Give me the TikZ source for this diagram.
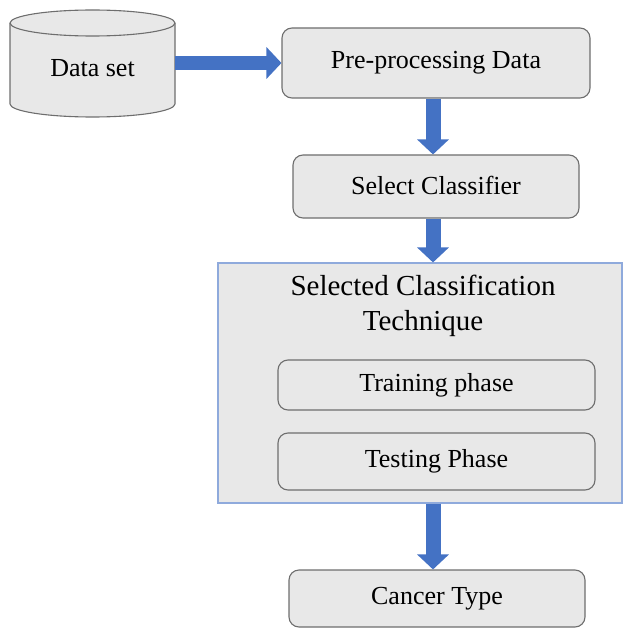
\documentclass[tikz,border=0pt]{standalone}
\usepackage{fontspec}
\setmainfont{Liberation Serif}
\usetikzlibrary{arrows.meta}
\definecolor{boxfill}{HTML}{E8E8E8}
\definecolor{boxline}{HTML}{6E6E6E}
\definecolor{panelline}{HTML}{8FAADC}
\definecolor{flowblue}{HTML}{4472C4}
\tikzset{
  stepbox/.style={draw=boxline, line width=1.1pt, fill=boxfill, rounded corners=10pt,
    font=\fontsize{26}{30}\selectfont, inner sep=0pt},
  panel/.style={draw=panelline, line width=1.1pt, fill=boxfill, inner sep=0pt},
  fatarrow/.style={draw=flowblue, line width=15pt,
    -{Triangle[width=31pt,length=15pt]}, flowblue},
}
\begin{document}
\begin{tikzpicture}[x=1pt,y=-1pt]
\useasboundingbox (0,0) rectangle (623,631);

% database cylinder
\path[draw=boxline, line width=1.1pt, fill=boxfill]
  (10,23) -- (10,104) arc[start angle=180, end angle=0, x radius=82.5, y radius=13]
  -- (175,23) arc[start angle=0, end angle=-180, x radius=82.5, y radius=13] -- cycle;
\draw[boxline, line width=1.1pt]
  (175,23) arc[start angle=0, end angle=180, x radius=82.5, y radius=13];
\node[font=\fontsize{26}{30}\selectfont, minimum width=165pt, minimum height=81pt, inner sep=0pt]
  (ds) at (92.5,68) {Data set};

% process boxes
\node[stepbox, minimum width=308pt, minimum height=70pt] (pre) at (436,63) {Pre-processing Data};
\node[stepbox, minimum width=286pt, minimum height=63pt] (sel) at (436,186.5) {\raisebox{2pt}{Select Classifier}};

% classification panel
\node[panel, minimum width=404pt, minimum height=240pt] (tech) at (420,383) {};
\node[font=\fontsize{29}{35}\selectfont, align=center, inner sep=0pt] (title) at (423,306)
  {Selected Classification\\Technique};
\node[stepbox, minimum width=317pt, minimum height=50pt] (train) at (436.5,385) {Training phase};
\node[stepbox, minimum width=317pt, minimum height=57pt] (test) at (436.5,461.5) {Testing Phase};

% result box
\node[stepbox, minimum width=296pt, minimum height=57pt] (out) at (437,598.5) {Cancer Type};

% flow arrows
\draw[fatarrow, line width=14pt] (ds.east |- pre.west) -- (pre.west);
\draw[fatarrow] (pre.south -| 433,0) -- (sel.north -| 433,0);
\draw[fatarrow] (sel.south -| 433,0) -- (tech.north -| 433,0);
\draw[fatarrow] (tech.south -| 433,0) -- (out.north -| 433,0);
\end{tikzpicture}
\end{document}
